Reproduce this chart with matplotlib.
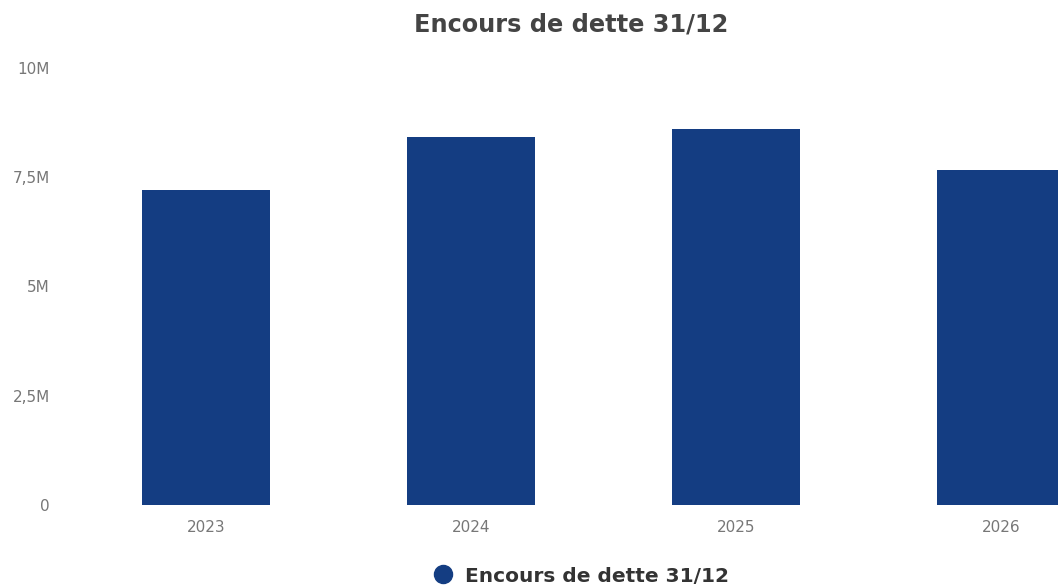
import matplotlib.pyplot as plt
from matplotlib.lines import Line2D
from matplotlib.ticker import FuncFormatter

# donnees
annees = ['2023', '2024', '2025', '2026']
encours = [7.21e6, 8.42e6, 8.60e6, 7.67e6]
yticks = [0, 2.5e6, 5e6, 7.5e6, 10e6]
couleur = '#143d82'

plt.rcParams['font.family'] = ['DejaVu Sans']

fig = plt.figure(figsize=(10.58, 5.87), dpi=100)
# l'axe deborde a droite, la derniere barre est coupee
ax = fig.add_axes([73.5 / 1058, 1 - 505 / 587, 1060 / 1058, 437 / 587])

x = range(len(annees))
ax.bar(x, encours, width=0.48, color=couleur)
ax.set_xlim(-0.5, 3.5)
ax.set_ylim(0, 10e6)
ax.set_xticks(list(x))
ax.set_xticklabels(annees)
ax.set_yticks(yticks)


def fmt(v, pos):
    if v == 0:
        return '0'
    s = ('%g' % (v / 1e6)).replace('.', ',')
    return s + 'M'


ax.yaxis.set_major_formatter(FuncFormatter(fmt))
ax.tick_params(axis='both', length=0, labelsize=11, labelcolor='#777777')
ax.tick_params(axis='y', pad=17)
ax.tick_params(axis='x', pad=11)
for s in ax.spines.values():
    s.set_visible(False)

fig.text(571 / 1058, 1 - 24 / 587, 'Encours de dette 31/12', ha='center', va='center',
         fontsize=17.3, fontweight='bold', color='#444444')

handle = Line2D([], [], marker='o', linestyle='none', markersize=13, color=couleur)
fig.legend([handle], ['Encours de dette 31/12'], loc='center',
           bbox_to_anchor=(576 / 1058, 1 - 576 / 587), frameon=False,
           prop={'weight': 'bold', 'size': 14.5}, labelcolor='#333333',
           handletextpad=0.1)

fig.savefig('out.png', dpi=100)
